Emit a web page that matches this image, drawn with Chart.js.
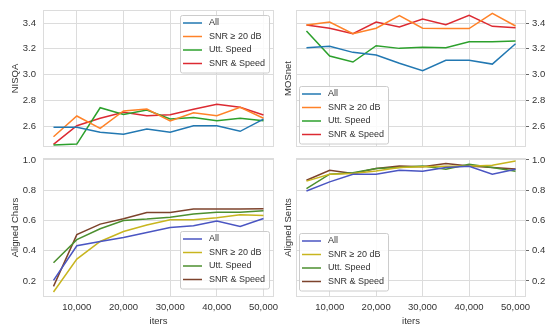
<!DOCTYPE html>
<html>
<head>
<meta charset="utf-8">
<script src="https://cdn.jsdelivr.net/npm/chart.js@4.4.1/dist/chart.umd.min.js"></script>
<style>
  html, body { margin: 0; padding: 0; background: #fff; }
  #wrap { position: relative; width: 550px; height: 326px; overflow: hidden; }
  .panel { position: absolute; }
</style>
</head>
<body>
<div id="wrap">
  <div class="panel" style="left:0;top:0;width:275px;height:150px"><canvas id="nisqaChart"></canvas></div>
  <div class="panel" style="left:275px;top:0;width:275px;height:150px"><canvas id="mosnetChart"></canvas></div>
  <div class="panel" style="left:0;top:150px;width:296px;height:176px"><canvas id="charsChart"></canvas></div>
  <div class="panel" style="left:275px;top:150px;width:275px;height:176px"><canvas id="sentsChart"></canvas></div>
</div>
<script>
const iters = [5000, 10000, 15000, 20000, 25000, 30000, 35000, 40000, 45000, 50000];
const seriesNames = ['All', 'SNR ≥ 20 dB', 'Utt. Speed', 'SNR & Speed'];

// NISQA
const nisqaAll   = [2.59, 2.59, 2.551, 2.536, 2.577, 2.551, 2.602, 2.602, 2.559, 2.654];
const nisqaSnr   = [2.517, 2.678, 2.582, 2.717, 2.732, 2.639, 2.703, 2.68, 2.745, 2.66];
const nisqaUtt   = [2.452, 2.46, 2.742, 2.69, 2.724, 2.654, 2.667, 2.641, 2.66, 2.641];
const nisqaBoth  = [2.458, 2.602, 2.66, 2.706, 2.68, 2.688, 2.73, 2.768, 2.745, 2.685];

// MOSnet
const mosAll  = [3.208, 3.219, 3.172, 3.151, 3.087, 3.03, 3.11, 3.11, 3.081, 3.239];
const mosSnr  = [3.384, 3.408, 3.317, 3.359, 3.457, 3.359, 3.357, 3.357, 3.475, 3.377];
const mosUtt  = [3.338, 3.144, 3.097, 3.224, 3.203, 3.211, 3.208, 3.255, 3.255, 3.26];
const mosBoth = [3.384, 3.359, 3.317, 3.408, 3.369, 3.431, 3.387, 3.46, 3.374, 3.364];

// Aligned Chars
const charsAll  = [0.204, 0.433, 0.461, 0.488, 0.521, 0.554, 0.565, 0.596, 0.56, 0.613];
const charsSnr  = [0.127, 0.345, 0.461, 0.527, 0.57, 0.605, 0.605, 0.618, 0.638, 0.633];
const charsUtt  = [0.321, 0.473, 0.545, 0.6, 0.609, 0.622, 0.642, 0.655, 0.655, 0.664];
const charsBoth = [0.164, 0.506, 0.576, 0.611, 0.653, 0.653, 0.675, 0.675, 0.675, 0.677];

// Aligned Sents
const sentsAll  = [0.795, 0.855, 0.906, 0.906, 0.932, 0.925, 0.95, 0.958, 0.906, 0.939];
const sentsSnr  = [0.86, 0.906, 0.91, 0.927, 0.95, 0.955, 0.958, 0.958, 0.965, 0.993];
const sentsUtt  = [0.811, 0.906, 0.915, 0.943, 0.95, 0.96, 0.939, 0.972, 0.95, 0.925];
const sentsBoth = [0.866, 0.932, 0.91, 0.943, 0.96, 0.955, 0.976, 0.96, 0.95, 0.94];

const iterTicks  = [10000, 20000, 30000, 40000, 50000];
const mosTicks   = [2.6, 2.8, 3.0, 3.2, 3.4];
const alignTicks = [0.2, 0.4, 0.6, 0.8, 1.0];

const topColors    = ['#2278b2', '#ff8228', '#2ca02c', '#dc2a32'];
const bottomColors = ['#4a55c2', '#c8b51e', '#4c8f2f', '#7d432c'];

const FONT = "'Liberation Sans', Arial, sans-serif";
const GRID = '#dcdcdc';
const TEXT = '#333333';

Chart.defaults.font.family = FONT;
Chart.defaults.font.size = 9.5;
Chart.defaults.color = TEXT;

// borde gris alrededor del area de dibujo
const frame = {
  id: 'frame',
  afterDatasetsDraw(chart) {
    const { ctx, chartArea: a } = chart;
    ctx.save();
    ctx.strokeStyle = GRID;
    ctx.lineWidth = 1;
    ctx.strokeRect(Math.round(a.left) + 0.5, Math.round(a.top) + 0.5,
      Math.round(a.right - a.left) - 1, Math.round(a.bottom - a.top) - 1);
    ctx.restore();
  }
};

// leyenda con marco dentro del area, estilo matplotlib
const boxLegend = {
  id: 'boxLegend',
  afterDraw(chart, args, opts) {
    const { ctx, chartArea: a } = chart;
    const items = chart.data.datasets;
    ctx.save();
    ctx.font = '9px ' + FONT;
    const textW = Math.max(...items.map(d => ctx.measureText(d.label).width));
    const rowH = 13.5;
    const w = 3 + 19 + 7 + textW + 4;
    const h = 8 + rowH * (items.length - 1) + 9;
    const x = Math.round(opts.corner.includes('e') ? a.right - opts.dx - w : a.left + opts.dx);
    const y = Math.round(opts.corner.includes('n') ? a.top + opts.dy : a.bottom - opts.dy - h);
    ctx.fillStyle = 'rgba(255,255,255,0.85)';
    ctx.strokeStyle = '#cccccc';
    ctx.lineWidth = 1;
    ctx.beginPath();
    ctx.roundRect(x + 0.5, y + 0.5, w, h, 2);
    ctx.fill();
    ctx.stroke();
    items.forEach((d, i) => {
      const cy = y + 8 + i * rowH;
      ctx.strokeStyle = d.borderColor;
      ctx.lineWidth = 1.5;
      ctx.beginPath();
      ctx.moveTo(x + 3, cy);
      ctx.lineTo(x + 22, cy);
      ctx.stroke();
      ctx.fillStyle = TEXT;
      ctx.textBaseline = 'middle';
      ctx.textAlign = 'left';
      ctx.fillText(d.label, x + 29, cy);
    });
    ctx.restore();
  }
};

function crearPanel(id, p) {
  const ctx = document.getElementById(id).getContext('2d');
  const right = p.side === 'right';

  const scales = {
    x: {
      type: 'linear',
      min: 2750,
      max: 52250,
      afterBuildTicks: axis => { axis.ticks = iterTicks.map(v => ({ value: v })); },
      afterFit: axis => {
        axis.height = p.showX ? 29 : 0;
        axis.paddingLeft = 0;
        axis.paddingRight = 0;
      },
      grid: { color: GRID, drawTicks: false },
      border: { display: false },
      ticks: {
        display: p.showX,
        padding: 5,
        maxRotation: 0,
        autoSkip: false,
        callback: v => v.toLocaleString('en-US')
      },
      title: {
        display: p.showX,
        text: 'iters',
        font: { size: 9.5, lineHeight: 1 },
        padding: { top: 0, bottom: 0 }
      }
    },
    y: {
      position: p.side,
      min: p.yMin,
      max: p.yMax,
      afterBuildTicks: axis => { axis.ticks = p.yTicks.map(v => ({ value: v })); },
      afterFit: axis => {
        axis.width = right ? 24 : 43;
        axis.paddingTop = 0;
        axis.paddingBottom = 0;
      },
      grid: { color: GRID, drawTicks: right, tickLength: 3, tickColor: '#666' },
      border: { display: false },
      ticks: {
        padding: right ? 3 : 7,
        callback: v => v.toFixed(1)
      },
      title: {
        display: !right,
        text: p.yLabel,
        font: { size: 9.5 },
        padding: { top: 10, bottom: 0 }
      }
    }
  };

  if (right) {
    // eje vacio a la izquierda solo para el titulo
    scales.yl = {
      type: 'linear',
      position: 'left',
      afterFit: axis => { axis.width = 21; },
      grid: { display: false },
      border: { display: false },
      ticks: { display: false },
      title: {
        display: true,
        text: p.yLabel,
        font: { size: 9.5 },
        padding: { top: 8, bottom: 0 }
      }
    };
  }

  return new Chart(ctx, {
    type: 'line',
    data: {
      datasets: p.series.map((s, i) => ({
        label: seriesNames[i],
        data: iters.map((x, j) => ({ x, y: s[j] })),
        borderColor: p.colors[i],
        backgroundColor: p.colors[i],
        borderWidth: 1.5,
        pointRadius: 0,
        tension: 0,
        yAxisID: 'y'
      }))
    },
    options: {
      responsive: true,
      maintainAspectRatio: false,
      animation: false,
      layout: { padding: p.padding },
      plugins: {
        legend: { display: false },
        tooltip: { enabled: false },
        boxLegend: p.legend
      },
      scales
    },
    plugins: [frame, boxLegend]
  });
}

crearPanel('nisqaChart', {
  series: [nisqaAll, nisqaSnr, nisqaUtt, nisqaBoth],
  colors: topColors, yLabel: 'NISQA', yTicks: mosTicks, yMin: 2.437, yMax: 3.501,
  side: 'left', showX: false,
  padding: { top: 10, right: 1, bottom: 3, left: 0 },
  legend: { corner: 'ne', dx: 5, dy: 5 }
});

crearPanel('mosnetChart', {
  series: [mosAll, mosSnr, mosUtt, mosBoth],
  colors: topColors, yLabel: 'MOSnet', yTicks: mosTicks, yMin: 2.437, yMax: 3.501,
  side: 'right', showX: false,
  padding: { top: 10, right: 0, bottom: 3, left: 0 },
  legend: { corner: 'sw', dx: 3, dy: 4 }
});

crearPanel('charsChart', {
  series: [charsAll, charsSnr, charsUtt, charsBoth],
  colors: bottomColors, yLabel: 'Aligned Chars', yTicks: alignTicks, yMin: 0.094, yMax: 1.013,
  side: 'left', showX: true,
  padding: { top: 8, right: 22, bottom: 0, left: 0 },
  legend: { corner: 'se', dx: 5, dy: 9 }
});

crearPanel('sentsChart', {
  series: [sentsAll, sentsSnr, sentsUtt, sentsBoth],
  colors: bottomColors, yLabel: 'Aligned Sents', yTicks: alignTicks, yMin: 0.094, yMax: 1.013,
  side: 'right', showX: true,
  padding: { top: 8, right: 0, bottom: 0, left: 0 },
  legend: { corner: 'sw', dx: 3, dy: 7 }
});
</script>
</body>
</html>
